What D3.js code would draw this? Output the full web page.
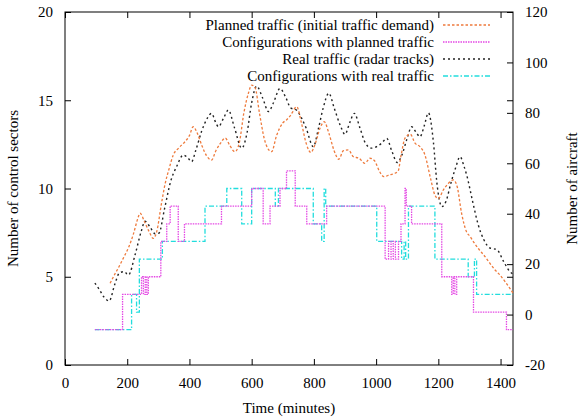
<!DOCTYPE html>
<html>
<head>
<meta charset="utf-8">
<style>
  body { margin: 0; background: #fff; }
</style>
</head>
<body>
<div id="chart"></div>
<script src="https://cdnjs.cloudflare.com/ajax/libs/d3/7.8.5/d3.min.js"></script>
<script>
// planned traffic (aircraft), [time, value]
var plannedTraffic = [
  [145,12.4],[160,16],[171,18.4],[190,23],[204,26.5],[220,32],[235,38.5],[241,40.2],[255,37],[270,33],
  [284,30.2],[295,33],[310,44],[321,51.4],[335,58],[348,63.3],[365,66],[386,68.6],[400,71],[412,74.5],
  [425,72],[440,67],[455,63],[471,61.3],[485,65],[500,68],[515,70],[530,67],[546,64.6],[560,68],
  [575,80],[590,88],[600,91],[611,90],[625,80],[640,70],[655,65.3],[664,64.6],[680,71],[700,76],
  [712,77.2],[725,79],[745,82.4],[760,76],[775,68],[790,64.3],[805,68],[820,74],[833,76.5],[848,72],
  [865,65],[880,61.6],[895,65],[911,65.3],[927,62.6],[945,62],[964,60],[980,62],[995,61],[1010,57],
  [1025,54.7],[1045,55.5],[1060,56],[1071,57],[1080,63],[1093,70],[1110,71.5],[1125,68],[1141,66.6],[1157,63.3],
  [1175,54],[1189,47.4],[1200,46],[1216,49.4],[1232,52],[1248,53.4],[1260,51],[1275,40],[1290,33],[1302,31],
  [1315,28.5],[1330,26],[1350,23],[1366,20.3],[1380,18],[1398,15.7],[1415,13],[1430,10.4],[1440,8.5]
];
// real traffic (aircraft)
var realTraffic = [
  [96,12.5],[110,10],[125,7],[142,5.4],[160,12],[175,16.5],[190,17],[204,15.7],[225,23.6],[245,33],
  [257,37],[273,34.8],[290,32],[302,32.3],[320,42],[340,53],[360,59],[380,63.3],[396,62],[407,60.6],
  [420,65],[440,73],[458,78],[471,79.8],[485,76],[493,74.5],[510,78],[525,81.1],[545,74],[568,66],
  [585,72],[600,84],[616,90.6],[635,86],[654,80.5],[670,84],[691,89.7],[710,86],[725,82],[745,81],
  [760,78],[775,74],[798,66.6],[815,74],[830,82],[848,87.8],[865,82],[885,75],[900,71.5],[915,76],
  [930,79.8],[948,74],[966,67.9],[985,66],[1002,66.6],[1018,68],[1034,69.9],[1050,65],[1068,60.3],[1082,63],
  [1100,70],[1114,74.5],[1130,72],[1141,70.5],[1155,75],[1168,80],[1184,68.6],[1195,52.7],[1204,45],[1211,42.8],
  [1225,45],[1240,52],[1255,58],[1270,62.6],[1282,59],[1291,55.4],[1310,45],[1328,35.7],[1345,30],[1366,26.4],
  [1388,25.8],[1410,21],[1430,17],[1440,16]
];
// planned configurations (number of sectors), [start time, sectors]
var plannedConfig = [
  [96,2],[185,4],[246,5],[252,4],[258,5],[263,4],[268,5],[308,7],[327,8],[338,9],[364,7],[384,8],
  [503,9],[600,10],[637,8],[659,9],[691,10],[712,11],[740,9],[777,8],[841,9],[1029,6],[1040,7],[1048,6],
  [1055,7],[1062,6],[1072,7],[1080,8],[1093,10],[1097,9],[1114,8],[1211,5],[1243,4],[1248,5],[1253,4],
  [1259,5],[1313,3],[1419,2],[1440,2]
];
// real configurations (number of sectors)
var realConfig = [
  [96,2],[214,4],[230,3],[239,6],[313,7],[450,9],[520,10],[568,8],[600,10],[676,9],[686,10],[798,8],
  [825,7],[833,10],[838,9],[1002,7],[1082,6],[1090,7],[1095,6],[1104,9],[1189,6],[1296,5],[1316,6],
  [1323,4],[1440,4]
];
var xTicks = [0,200,400,600,800,1000,1200,1400];
var yTicks = [0,5,10,15,20];
var y2Ticks = [-20,0,20,40,60,80,100,120];
var seriesNames = ["Planned traffic (initial traffic demand)", "Configurations with planned traffic",
  "Real traffic (radar tracks)", "Configurations with real traffic"];

var W = 585, H = 420;
var margin = {top: 12, right: 72, bottom: 55, left: 65};
var width = W - margin.left - margin.right,
    height = H - margin.top - margin.bottom;
var FONT = "'Liberation Serif', 'Times New Roman', Times, 'DejaVu Serif', serif";
var fs = "15px";

var svg = d3.select("#chart").append("svg")
  .attr("width", W).attr("height", H)
  .style("font-family", FONT);
var g = svg.append("g")
  .attr("transform", "translate(" + margin.left + "," + margin.top + ")");

var x = d3.scaleLinear().domain([0, 1440]).range([0, width]),
    y = d3.scaleLinear().domain([0, 20]).range([height, 0]),
    y2 = d3.scaleLinear().domain([-20, 120]).range([height, 0]);

var plain = function(d){ return String(d); };

function styleAxis(sel) {
  sel.attr("font-family", FONT).attr("font-size", 15);
  sel.select(".domain").remove();
  sel.selectAll(".tick line").attr("stroke", "#000");
  sel.selectAll(".tick text").attr("fill", "#000")
    .style("font-family", FONT).style("font-size", fs);
}

// axes with inward ticks
g.append("g").attr("transform", "translate(0," + height + ")")
  .call(d3.axisBottom(x).tickValues(xTicks).tickFormat(plain).tickSizeInner(-6).tickSizeOuter(0).tickPadding(12))
  .call(styleAxis);
g.append("g")
  .call(d3.axisTop(x).tickValues(xTicks).tickSizeInner(-6).tickSizeOuter(0).tickFormat(""))
  .call(styleAxis);
g.append("g")
  .call(d3.axisLeft(y).tickValues(yTicks).tickFormat(plain).tickSizeInner(-6).tickSizeOuter(0).tickPadding(12))
  .call(styleAxis);
g.append("g").attr("transform", "translate(" + width + ",0)")
  .call(d3.axisRight(y).tickValues(yTicks).tickSizeInner(-6).tickSizeOuter(0).tickFormat(""))
  .call(styleAxis);
g.append("g").attr("transform", "translate(" + width + ",0)")
  .call(d3.axisRight(y2).tickValues(y2Ticks).tickFormat(plain).tickSizeInner(-6).tickSizeOuter(0).tickPadding(12))
  .call(styleAxis);

g.append("rect")
  .attr("width", width).attr("height", height)
  .attr("fill", "none").attr("stroke", "#000").attr("stroke-width", 1);

function label(sel) {
  return sel.style("font-family", FONT).style("font-size", fs).attr("fill", "#000");
}

// axis titles
svg.append("text")
  .attr("transform", "translate(18," + (margin.top + height / 2) + ") rotate(-90)")
  .attr("text-anchor", "middle").call(label)
  .text("Number of control sectors");
svg.append("text")
  .attr("transform", "translate(577," + (margin.top + height / 2) + ") rotate(-90)")
  .attr("text-anchor", "middle").call(label)
  .text("Number of aircraft");
svg.append("text")
  .attr("x", margin.left + width / 2).attr("y", 413)
  .attr("text-anchor", "middle").call(label)
  .text("Time (minutes)");

var styles = [
  {color: "#ee7a3c", dash: "2.5,2", width: 1.3},
  {color: "#e448e4", dash: "1.5,1", width: 1.3},
  {color: "#222222", dash: "2,3", width: 1.4},
  {color: "#22dddd", dash: "5,2,1.5,2", width: 1.3}
];

var trafficLine = d3.line()
  .x(function(d){ return x(d[0]); })
  .y(function(d){ return y2(d[1]); })
  .curve(d3.curveMonotoneX);
var stepLine = d3.line()
  .x(function(d){ return x(d[0]); })
  .y(function(d){ return y(d[1]); })
  .curve(d3.curveStepAfter);

var plot = g.append("g");
function addPath(data, gen, st) {
  plot.append("path")
    .attr("d", gen(data))
    .attr("fill", "none")
    .attr("stroke", st.color)
    .attr("stroke-width", st.width)
    .attr("stroke-dasharray", st.dash);
}
addPath(realConfig, stepLine, styles[3]);
addPath(plannedConfig, stepLine, styles[1]);
addPath(realTraffic, trafficLine, styles[2]);
addPath(plannedTraffic, trafficLine, styles[0]);

// legend
var legend = svg.append("g");
seriesNames.forEach(function(name, i) {
  var yy = 25 + i * 17;
  legend.append("text")
    .attr("x", 434).attr("y", yy + 5)
    .attr("text-anchor", "end").call(label)
    .text(name);
  legend.append("line")
    .attr("x1", 443).attr("x2", 490).attr("y1", yy).attr("y2", yy)
    .attr("stroke", styles[i].color)
    .attr("stroke-width", styles[i].width)
    .attr("stroke-dasharray", styles[i].dash);
});
</script>
</body>
</html>
